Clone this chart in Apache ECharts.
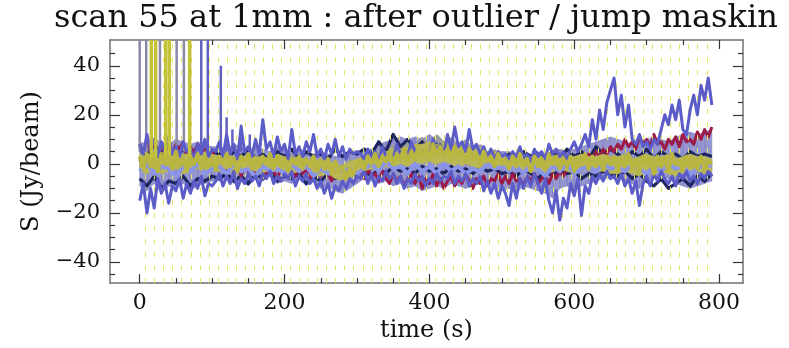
<!DOCTYPE html>
<html><head><meta charset="utf-8">
<script src="https://cdn.jsdelivr.net/npm/echarts@6/dist/echarts.min.js"></script>
<style>html,body{margin:0;padding:0;background:#fff}#c{width:789px;height:348px}</style>
</head><body><div id="c"></div>
<script>
const titleText = 'scan 55 at 1mm : after outlier / jump maskin';
const xName = 'time (s)';
const yName = 'S (Jy/beam)';
const xTickValues = [0, 200, 400, 600, 800];
const xMinorValues = [50, 100, 150, 250, 300, 350, 450, 500, 550, 650, 700, 750];
const yTickValues = [-40, -20, 0, 20, 40];
const yMinorValues = [-45, -35, -30, -25, -15, -10, -5, 5, 10, 15, 25, 30, 35, 45];

// sampling grids (s)
const fineStep = 5, coarseStep = 10, lastTime = 790;

// subscan boundaries (dashed yellow lines)
const subscanTimes = [8,20.5,33,45.5,58,70.5,83,95.5,108,120.5,133,145.5,158,170.5,183,195.5,208,220.5,233,245.5,258,270.5,283,295.5,308,320.5,333,345.5,358,370.5,383,395.5,408,420.5,433,445.5,458,470.5,483,495.5,508,520.5,533,545.5,558,570.5,583,595.5,608,620.5,633,645.5,658,670.5,683,695.5,708,720.5,733,745.5,758,770.5,783];

// fine-grid series (t = 0..790 step 5)
const yellowVals = [
 3,-2,4,-1,2,-3,4,0,3,-2,5,-1,2,-3,3,0,4,-2,3,-1,2,
 -2,3,0,4,-1,2,-3,3,1,4,-2,2,-1,3,0,4,-2,3,-1,2,-3,2,0,3,-2,2,-1,3,-3,1,-2,2,-4,1,-3,-1,-6,-2,-4,0,
 1,-2,3,0,4,-1,3,1,5,0,4,2,6,1,5,2,7,3,6,2,8,4,7,3,6,2,7,3,5,1,6,2,4,0,5,1,3,-1,4,0,
 2,-2,3,-1,4,0,2,-3,3,-1,2,-2,4,0,3,-2,2,-1,3,-3,2,0,4,-2,3,-1,2,-2,3,0,
 3,-3,2,-1,4,-2,1,-3,3,0,2,-4,3,-1,2,-3,4,0,1,-3,3,-1,2,-2,3,-2,1,0];
const redVals = [
 8,4,10,5,9,3,7,5,10,4,8,6,9,3,7,4,8,5,6,3,5,
 2,-2,1,-4,0,-3,2,-5,-1,-3,0,-4,1,-2,-5,-1,-3,-6,-2,-4,0,-3,-5,-1,-4,-2,-6,-3,-1,-5,-2,-4,-7,-3,-5,-2,-6,-3,-4,-2,
 -3,-6,-2,-5,-4,-7,-3,-6,-8,-4,-7,-5,-9,-6,-4,-8,-5,-10,-6,-8,-4,-9,-6,-10,-7,-5,-9,-6,-8,-4,-7,-10,-6,-8,-5,-9,-6,-7,-4,-8,
 -5,-8,-4,-7,-6,-9,-5,-7,-4,-8,-6,-5,-8,-4,-6,-3,-5,-2,0,2,-1,3,1,4,2,5,3,6,4,7,
 5,8,6,10,7,9,6,11,8,10,7,12,8,9,6,10,8,11,7,12,9,10,8,13,10,14,11,15];
const violetUpperVals = [
 8,4,12,6,10,3,9,5,11,4,7,3,9,5,6,2,8,4,10,3,6,
 5,9,3,12,4,8,2,15,5,7,3,10,4,18,6,9,3,11,5,8,2,14,4,7,3,9,5,12,3,6,2,8,4,10,3,7,2,6,4,5,
 4,2,6,3,5,1,7,3,5,2,8,4,6,3,9,5,7,4,6,3,10,5,8,4,12,6,15,7,9,5,14,6,8,4,7,3,6,2,5,3,
 4,2,5,3,7,2,4,1,6,3,5,2,8,4,6,3,5,2,6,9,5,8,12,7,18,10,22,14,25,30,
 35,20,28,15,24,10,8,12,7,9,6,10,8,14,20,16,24,18,26,14,12,22,28,20,32,26,35,24];
const violetLowerVals = [
 -15,-8,-20,-10,-18,-6,-12,-8,-16,-9,-11,-6,-14,-8,-12,-7,-10,-5,-13,-8,-9,
 -7,-4,-9,-5,-8,-3,-10,-6,-8,-4,-7,-5,-9,-4,-6,-3,-8,-5,-7,-4,-6,-3,-9,-5,-7,-4,-8,-6,-10,-7,-12,-8,-14,-9,-11,-7,-10,-6,-8,-5,
 -6,-3,-8,-4,-9,-5,-7,-3,-6,-4,-8,-5,-10,-6,-8,-4,-7,-5,-9,-6,-8,-4,-7,-5,-6,-3,-8,-5,-7,-4,-9,-6,-8,-5,-11,-7,-12,-8,-14,-9,
 -12,-17,-8,-14,-6,-10,-5,-9,-4,-8,-12,-6,-15,-20,-11,-23,-14,-18,-8,-13,-6,-21,-9,-12,-5,-8,-4,-7,-3,-6,
 -5,-8,-4,-9,-6,-12,-7,-17,-8,-5,-9,-4,-7,-3,-6,-8,-5,-9,-4,-6,-3,-7,-5,-8,-4,-6,-3,-5];

// coarse-grid series (t = 0..790 step 10)
const yellowLow = [
 -3,-4,-2,-4,-3,-2,-4,-3,-2,-3,-3,
 -3,-2,-4,-3,-2,-3,-4,-2,-3,-3,-4,-3,-2,-4,-5,-4,-6,-7,-6,-4,
 -3,-2,-3,-1,-2,0,-1,1,0,1,0,1,0,-1,0,-1,-2,-1,-2,-2,
 -3,-2,-3,-3,-2,-4,-3,-2,-3,-4,-3,-2,-3,-3,-4,
 -4,-3,-4,-5,-3,-4,-3,-4,-5,-3,-4,-3,-4,-3];
const yellowHigh = [
 4,3,5,4,3,5,4,4,3,5,4,
 3,4,3,2,4,3,3,2,4,3,2,3,2,1,2,1,0,-1,1,2,
 3,4,4,5,6,6,7,8,8,9,8,9,8,7,7,6,6,5,5,4,
 3,4,3,3,4,2,3,4,3,3,4,3,3,4,3,
 3,4,2,3,4,3,3,4,2,3,4,3,3,2];
const hazeLow = [
 -9,-11,-8,-12,-9,-10,-8,-11,-9,-8,-7,
 -7,-6,-8,-7,-9,-6,-7,-5,-8,-7,-8,-6,-9,-7,-10,-9,-11,-12,-10,-8,
 -6,-7,-8,-7,-9,-8,-10,-9,-11,-10,-9,-10,-8,-9,-10,-9,-8,-9,-10,-11,
 -10,-12,-9,-10,-11,-12,-14,-10,-9,-11,-9,-8,-7,-6,-6,
 -6,-7,-8,-10,-7,-6,-5,-6,-8,-9,-10,-9,-8,-7];
const hazeHigh = [
 9,8,10,9,8,10,9,8,9,8,7,
 7,6,8,7,6,7,6,5,7,6,5,6,5,4,5,4,3,3,4,5,
 6,6,8,9,10,11,10,11,10,12,10,9,8,8,7,6,6,5,5,5,
 5,4,5,4,5,4,5,6,5,6,7,8,9,10,11,
 10,9,8,9,10,11,10,9,11,12,13,12,13,14];
const grayVals = [
 2,-1,3,0,4,1,2,-1,3,0,2,
 3,0,2,-1,3,1,2,-2,2,0,3,-1,1,-3,2,-2,0,-4,1,0,
 3,2,5,3,7,4,9,6,10,7,11,8,10,6,9,5,7,3,5,2,
 3,0,2,-1,3,1,2,-2,3,0,2,-1,3,0,2,
 1,-2,2,0,3,-1,2,-2,1,0,2,-1,1,0];
const navyUpperVals = [
 6,3,8,4,7,2,6,3,7,4,5,
 4,2,5,3,6,2,4,1,5,3,6,2,5,3,4,2,6,3,5,4,
 6,4,9,5,12,7,10,6,9,5,8,4,7,3,6,2,5,3,4,2,
 4,2,5,3,4,1,5,2,6,3,5,2,7,4,6,
 4,2,5,3,6,2,5,3,4,2,5,3,4,3];
const navyLowerVals = [
 -6,-9,-5,-10,-7,-8,-5,-9,-6,-7,-5,
 -6,-4,-7,-5,-8,-4,-6,-3,-7,-5,-6,-4,-8,-5,-7,-4,-6,-3,-5,-4,
 -3,-5,-2,-4,-1,-3,-2,-4,-1,-3,-2,-4,-1,-3,-2,-4,-1,-3,-2,-4,
 -3,-5,-2,-4,-6,-3,-5,-2,-4,-3,-6,-4,-5,-3,-4,
 -5,-3,-6,-4,-7,-9,-6,-10,-8,-6,-9,-5,-7,-4];
const lightBlueVals = [
 -3,0,-4,-1,-2,-5,-1,-3,0,-4,-2,
 -1,-4,0,-3,-2,-5,-1,-3,-2,-4,0,-3,-1,-5,-2,-4,-1,-3,-2,-4,
 -2,0,-3,1,-2,-1,-4,0,-3,-1,-4,0,-3,-1,-4,-2,-3,0,-2,-1,
 -3,-1,-4,0,-2,-5,-1,-3,0,-4,-2,-1,-3,0,-2,
 -1,-3,0,-2,-4,-1,-3,0,-2,-1,-4,-2,0,-1];

// glitch spikes near the start of the scan
const graySpikeTimes = [0, 9, 28, 51, 61];
const graySpikeBase = [5, 5, 5, 5, 5];
const graySpikePeak = [50.5, 50.5, 50.5, 50.5, 50.5];
const yellowSpikeTimes = [16, 22, 36, 41, 69];
const yellowSpikeBase = [2, 2, 2, 2, 2];
const yellowSpikePeak = [50.5, 50.5, 50.5, 50.5, 50.5];
const violetSpikeTimes = [85, 94, 112, 120, 128, 140, 152];
const violetSpikeBase = [5, 5, 5, 5, 5, 5, 5];
const violetSpikePeak = [50.5, 50.5, 40, 19, 14, 16, 12];

const timeFine = []; for (let t = 0; t <= lastTime; t += fineStep) timeFine.push(t);
const timeCoarse = []; for (let t = 0; t <= lastTime; t += coarseStep) timeCoarse.push(t);
function pair(times, vals, name) {
  if (times.length !== vals.length) throw new Error(name + ' length ' + vals.length + ' vs ' + times.length);
  return times.map((t, i) => [t, vals[i]]);
}

const FONT = 'DejaVu Serif';
const frameColor = '#707070';
const chart = echarts.init(document.getElementById('c'), null, {renderer: 'canvas'});

function lineSeries(name, times, vals, color, width, z) {
  return {name, type: 'line', xAxisIndex: 0, yAxisIndex: 0, data: pair(times, vals, name),
    showSymbol: false, symbol: 'none', silent: true, animation: false, z,
    lineStyle: {color, width, join: 'round'}, clip: true};
}
function spikeSeries(times, base, peak, color, width, z) {
  return {type: 'custom', xAxisIndex: 0, yAxisIndex: 0, silent: true, animation: false, z,
    data: times.map((t, i) => [t, base[i], peak[i]]),
    renderItem: (params, api) => {
      const p0 = api.coord([api.value(0), api.value(1)]);
      const p1 = api.coord([api.value(0), api.value(2)]);
      return {type: 'line', shape: {x1: p0[0], y1: p0[1], x2: p1[0], y2: p1[1]},
        style: {stroke: color, lineWidth: width}};
    }};
}
function bandSeries(times, low, high, color, opacity, z) {
  if (low.length !== times.length || high.length !== times.length) throw new Error('band length');
  const data = [];
  for (let i = 0; i < times.length - 1; i++) data.push([times[i], low[i], high[i], times[i + 1], low[i + 1], high[i + 1]]);
  return {type: 'custom', xAxisIndex: 0, yAxisIndex: 0, silent: true, animation: false, z,
    data,
    renderItem: (params, api) => {
      const a = api.coord([api.value(0), api.value(1)]);
      const b = api.coord([api.value(0), api.value(2)]);
      const c = api.coord([api.value(3), api.value(5)]);
      const d = api.coord([api.value(3), api.value(4)]);
      return {type: 'polygon', shape: {points: [a, b, c, d]},
        style: {fill: color, stroke: color, lineWidth: 0.6, opacity}};
    }};
}
const minusFmt = v => String(v).replace('-', '\u2212');

const xMin = -41, xMax = 833, yMin = -48.6, yMax = 50.5;
function xAx(pos, values, len, labels, line) {
  return {type: 'value', position: pos, min: xMin, max: xMax, gridIndex: 0,
    splitLine: {show: false},
    axisLine: {show: line, onZero: false, lineStyle: {color: frameColor, width: 1.5}},
    axisTick: {show: true, inside: true, length: len, customValues: values, lineStyle: {color: '#333', width: 1.2}},
    axisLabel: {show: labels, customValues: values, color: '#111', fontFamily: FONT, fontSize: 22, margin: 9, formatter: minusFmt},
    name: labels ? xName : '', nameLocation: 'middle', nameGap: 30,
    nameTextStyle: {color: '#111', fontFamily: FONT, fontSize: 24}};
}
function yAx(pos, values, len, labels, line) {
  return {type: 'value', position: pos, min: yMin, max: yMax, gridIndex: 0,
    splitLine: {show: false},
    axisLine: {show: line, onZero: false, lineStyle: {color: frameColor, width: 1.5}},
    axisTick: {show: true, inside: true, length: len, customValues: values, lineStyle: {color: '#333', width: 1.2}},
    axisLabel: {show: labels, customValues: values, color: '#111', fontFamily: FONT, fontSize: 21, margin: 10, formatter: minusFmt},
    name: labels ? yName : '', nameLocation: 'middle', nameGap: 66, nameRotate: 90,
    nameTextStyle: {color: '#111', fontFamily: FONT, fontSize: 24}};
}

const option = {
  backgroundColor: '#ffffff',
  animation: false,
  title: {text: titleText, left: 49, top: -2,
    textStyle: {fontFamily: FONT, fontWeight: 'normal', fontSize: 32, color: '#111'}},
  grid: {left: 110, right: 46, top: 40, bottom: 49, containLabel: false},
  xAxis: [xAx('bottom', xTickValues, 9, true, true), xAx('bottom', xMinorValues, 5, false, false),
          xAx('top', xTickValues, 9, false, true), xAx('top', xMinorValues, 5, false, false)],
  yAxis: [yAx('left', yTickValues, 10, true, true), yAx('left', yMinorValues, 5, false, false),
          yAx('right', yTickValues, 10, false, true), yAx('right', yMinorValues, 5, false, false)],
  series: [
    {type: 'line', data: [], silent: true, z: 1,
      markLine: {silent: true, symbol: 'none', animation: false, label: {show: false},
        lineStyle: {color: '#e4e460', width: 1, type: [5, 8]},
        data: subscanTimes.map(t => ({xAxis: t}))}},
    bandSeries(timeCoarse, hazeLow, hazeHigh, '#7a7ac4', 0.8, 2),
    lineSeries('gray', timeCoarse, grayVals, '#9c9c9c', 4.5, 2),
    lineSeries('navyUp', timeCoarse, navyUpperVals, '#1e2660', 3.2, 3),
    lineSeries('navyLow', timeCoarse, navyLowerVals, '#1e2660', 3.2, 3),
    lineSeries('red', timeFine, redVals, '#9c1a48', 3, 4),
    lineSeries('lightblue', timeCoarse, lightBlueVals, '#8a94e8', 4, 5),
    bandSeries(timeCoarse, yellowLow, yellowHigh, '#b9b852', 1, 5),
    lineSeries('violetUp', timeFine, violetUpperVals, '#5c5cc8', 3, 6),
    lineSeries('violetLow', timeFine, violetLowerVals, '#5c5cc8', 3, 6),
    spikeSeries(graySpikeTimes, graySpikeBase, graySpikePeak, '#8a8aa8', 2.5, 6),
    spikeSeries(violetSpikeTimes, violetSpikeBase, violetSpikePeak, '#6060c0', 2.5, 6),
    lineSeries('yellow', timeFine, yellowVals, '#b8b540', 4, 7),
    spikeSeries(yellowSpikeTimes, yellowSpikeBase, yellowSpikePeak, '#c4c23a', 3.5, 7)
  ]
};
chart.setOption(option);
</script></body></html>
